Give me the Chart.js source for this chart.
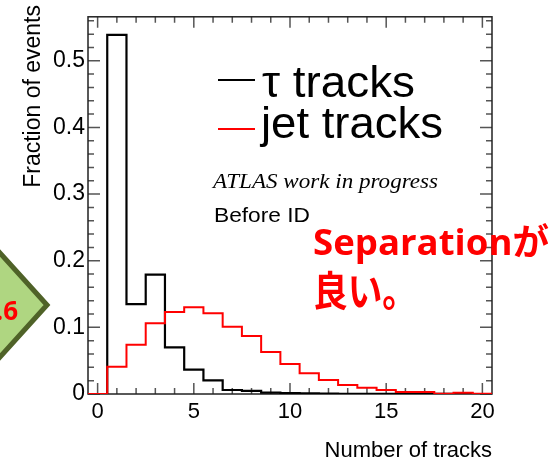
<!DOCTYPE html>
<html>
<head>
<meta charset="utf-8">
<script src="https://cdn.jsdelivr.net/npm/chart.js@4.4.0/dist/chart.umd.min.js"></script>
<style>
    body{margin:0;background:#fff}
    #wrap{width:558px;height:458px}
</style>
</head>
<body>
<div id="wrap"><canvas id="histChart" width="558" height="458"></canvas></div>
<script>
// number of tracks, one bin per integer
const nTracks = [0,1,2,3,4,5,6,7,8,9,10,11,12,13,14,15,16,17,18,19,20]
const tauFrac = [0,0.539,0.135,0.179,0.070,0.0366,0.0205,0.006,0.0048,0.002,0.0015,0.0008,0.0005,0.0004,0.0003,0.0002,0.0002,0.0001,0.0001,0.0001,0]
const jetFrac = [0,0.041,0.074,0.106,0.123,0.130,0.121,0.101,0.087,0.063,0.045,0.031,0.021,0.0136,0.0095,0.006,0.003,0.003,0.0005,0.002,0.0005]
const xTicks = [0,5,10,15,20]
const yTicks = [0,0.1,0.2,0.3,0.4,0.5]

const SANS = '"Liberation Sans", Arial, sans-serif'

// histogram outline: left edge of each bin, plus the right edge of the last one
function binEdges(vals){
    const pts = nTracks.map((n,i)=>({x:n-0.5,y:vals[i]}))
    pts.push({x:nTracks[nTracks.length-1]+0.5,y:vals[vals.length-1]})
    return pts
}

// draw text squeezed/stretched to a given width
function fitText(ctx,text,x,y,width,font,color){
    ctx.save()
    ctx.font = font
    ctx.fillStyle = color
    ctx.textBaseline = 'alphabetic'
    const w = ctx.measureText(text).width
    ctx.translate(x,y)
    ctx.scale(width/w,1)
    ctx.fillText(text,0,0)
    ctx.restore()
}

const framePlugin = {
    id:'rootFrame',
    // frame and ticks go under the histograms
    beforeDatasetsDraw(chart){
        const ctx = chart.ctx
        const a = chart.chartArea
        const xs = chart.scales.x, ys = chart.scales.y

        ctx.save()
        ctx.strokeStyle = '#555'
        ctx.lineWidth = 1.5
        ctx.beginPath()
        for(let v=0; v<=20; v++){
            const px = xs.getPixelForValue(v)
            const len = v%5===0 ? 11 : 6
            ctx.moveTo(px,a.bottom); ctx.lineTo(px,a.bottom-len)
            ctx.moveTo(px,a.top); ctx.lineTo(px,a.top+len)
        }
        for(let k=0; k<=28; k++){
            const v = k*0.02
            if(v>ys.max) break
            const py = ys.getPixelForValue(v)
            const len = k%5===0 ? 12 : 6
            ctx.moveTo(a.left,py); ctx.lineTo(a.left+len,py)
            ctx.moveTo(a.right,py); ctx.lineTo(a.right-len,py)
        }
        ctx.stroke()

        ctx.strokeStyle = '#222'
        ctx.lineWidth = 1.5
        ctx.strokeRect(a.left,a.top,a.right-a.left,a.bottom-a.top)
        ctx.restore()
    },
    afterDraw(chart){
        const ctx = chart.ctx
        const a = chart.chartArea

        // axis titles
        ctx.save()
        ctx.translate(34,5)
        ctx.rotate(-Math.PI/2)
        ctx.font = '23px '+SANS
        ctx.fillStyle = '#000'
        ctx.textAlign = 'right'
        ctx.textBaseline = 'middle'
        ctx.fillText('Fraction of events',0,0)
        ctx.restore()

        ctx.save()
        ctx.font = '22px '+SANS
        ctx.fillStyle = '#000'
        ctx.textAlign = 'right'
        ctx.fillText('Number of tracks',a.right,457)
        ctx.restore()

        // legend
        ctx.save()
        ctx.lineWidth = 2
        ctx.strokeStyle = '#000'
        ctx.beginPath(); ctx.moveTo(218,80); ctx.lineTo(255,80); ctx.stroke()
        ctx.strokeStyle = '#ff0000'
        ctx.beginPath(); ctx.moveTo(218,129); ctx.lineTo(255,129); ctx.stroke()
        ctx.restore()
        fitText(ctx,'τ tracks',262,97,153,'44px '+SANS,'#000')
        fitText(ctx,'jet tracks',261,138,182,'44px '+SANS,'#000')

        fitText(ctx,'ATLAS work in progress',213,188,225,'italic 21px "Liberation Serif", "Times New Roman", serif','#000')
        fitText(ctx,'Before ID',214,222,96,'21px '+SANS,'#000')

        // annotation
        const jp = '"Open Sans", "Noto Sans CJK JP", sans-serif'
        fitText(ctx,'Separationが',313,255,236,'bold 36px '+jp,'#ff0000')
        fitText(ctx,'良い。',313,306,104,'bold 41px "Noto Sans CJK JP", sans-serif','#ff0000')

        // green marker on the left edge
        ctx.save()
        ctx.beginPath()
        ctx.moveTo(47,305)
        ctx.lineTo(-20,231)
        ctx.lineTo(-87,305)
        ctx.lineTo(-20,379)
        ctx.closePath()
        ctx.fillStyle = '#afd681'
        ctx.fill()
        ctx.lineWidth = 5
        ctx.strokeStyle = '#4f6228'
        ctx.stroke()
        ctx.font = 'bold 26px "Open Sans", sans-serif'
        ctx.fillStyle = '#ff0000'
        ctx.textAlign = 'right'
        ctx.fillText('.6',18,320)
        ctx.restore()
    }
}

new Chart(document.getElementById('histChart').getContext('2d'),{
    type:'line',
    data:{
        datasets:[
            {
                label:'jet tracks',
                data:binEdges(jetFrac),
                borderColor:'#ff0000',
                borderWidth:2,
                stepped:true,
                pointRadius:0,
                fill:false
            },
            {
                label:'τ tracks',
                data:binEdges(tauFrac),
                borderColor:'#000',
                borderWidth:2.2,
                stepped:true,
                pointRadius:0,
                fill:false
            }
        ]
    },
    options:{
        responsive:false,
        animation:false,
        layout:{padding:{top:7,right:66,left:0,bottom:0}},
        plugins:{legend:{display:false},tooltip:{enabled:false}},
        scales:{
            x:{
                type:'linear',
                min:-0.5,
                max:20.5,
                afterBuildTicks:s=>{s.ticks = xTicks.map(v=>({value:v}))},
                afterFit:s=>{s.height = 64},
                grid:{display:false,drawTicks:false},
                border:{display:false},
                ticks:{color:'#000',padding:5,maxRotation:0,font:{family:SANS,size:22},callback:v=>String(v)}
            },
            y:{
                min:0,
                max:0.566,
                afterBuildTicks:s=>{s.ticks = yTicks.map(v=>({value:v}))},
                afterFit:s=>{s.width = 88},
                grid:{display:false,drawTicks:false},
                border:{display:false},
                ticks:{color:'#000',padding:3,font:{family:SANS,size:23},callback:v=>v===0?'0':v.toFixed(1)}
            }
        }
    },
    plugins:[framePlugin]
})
</script>
</body>
</html>
